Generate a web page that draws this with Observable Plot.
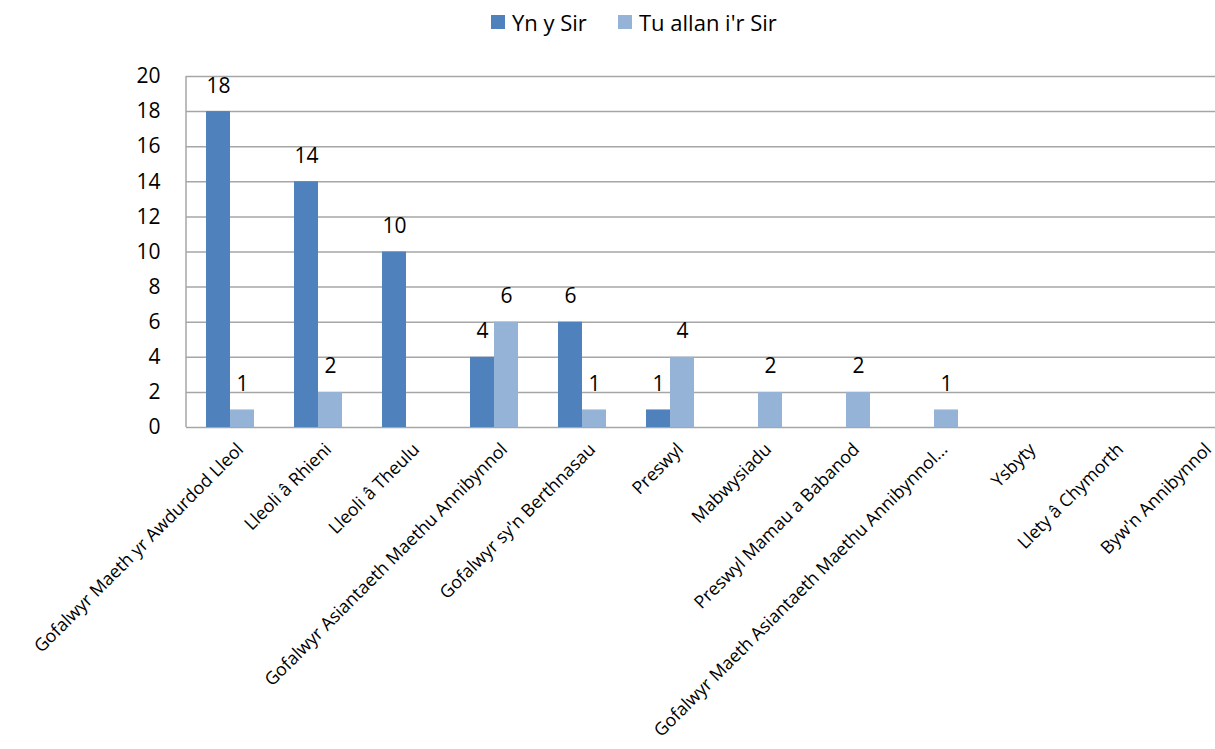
<!DOCTYPE html>
<html>
<head>
<meta charset="utf-8">
<script src="https://cdn.jsdelivr.net/npm/d3@7"></script>
<script src="https://cdn.jsdelivr.net/npm/@observablehq/plot@0.6"></script>
<style>
  html, body { margin: 0; padding: 0; background: #fff; overflow: hidden; }
  body { width: 1215px; height: 749px; font-family: "Open Sans", sans-serif; }
  #legend { position: relative; height: 44px; }
  .item { position: absolute; top: 0; height: 44px; display: flex; align-items: center; font-size: 22px; color: #000; white-space: nowrap; }
  .sw { width: 14px; height: 14px; margin-right: 7px; }
  #chart svg { display: block; overflow: visible; }
</style>
</head>
<body>
<div id="legend"></div>
<div id="chart"></div>
<script>
const categories = [
  "Gofalwyr Maeth yr Awdurdod Lleol",
  "Lleoli â Rhieni",
  "Lleoli â Theulu",
  "Gofalwyr Asiantaeth Maethu Annibynnol",
  "Gofalwyr sy'n Berthnasau",
  "Preswyl",
  "Mabwysiadu",
  "Preswyl Mamau a Babanod",
  "Gofalwyr Maeth Asiantaeth Maethu Annibynnol...",
  "Ysbyty",
  "Llety â Chymorth",
  "Byw'n Annibynnol"
];
const series = ["Yn y Sir", "Tu allan i'r Sir"];
const ynYSir = [18, 14, 10, 4, 6, 1, 0, 0, 0, 0, 0, 0];
const tuAllanIrSir = [1, 2, 0, 6, 1, 4, 2, 2, 1, 0, 0, 0];
const colors = ["#4f81bd", "#95b3d7"];
const yTicks = [0, 2, 4, 6, 8, 10, 12, 14, 16, 18, 20];

const rows = [];
categories.forEach((c, i) => {
  rows.push({category: c, series: series[0], value: ynYSir[i]});
  rows.push({category: c, series: series[1], value: tuAllanIrSir[i]});
});

// legend
const legend = document.getElementById("legend");
const legendLeft = [491, 618];
series.forEach((s, i) => {
  const it = document.createElement("div");
  it.className = "item";
  it.style.left = legendLeft[i] + "px";
  const sw = document.createElement("span");
  sw.className = "sw";
  sw.style.background = colors[i];
  it.appendChild(sw);
  it.appendChild(document.createTextNode(s));
  legend.appendChild(it);
});

const chart = Plot.plot({
  width: 1215,
  height: 705,
  marginTop: 32,
  marginBottom: 322,
  marginLeft: 184,
  marginRight: -29,
  style: {fontFamily: "Open Sans, sans-serif", fontSize: "21px", background: "#fff", color: "#000"},
  fx: {domain: categories, padding: 0},
  x: {domain: series, paddingInner: 0, paddingOuter: 0.767, axis: null},
  y: {domain: [0, 20], axis: null},
  color: {domain: series, range: colors},
  marks: [
    Plot.ruleY(yTicks, {stroke: "#a6a6a6", strokeWidth: 1.5}),
    Plot.barY(rows, {fx: "category", x: "series", y: "value", fill: "series", inset: 0}),
    Plot.text(rows.filter(d => d.value > 0), {
      fx: "category", x: "series", y: "value", text: d => String(d.value),
      lineAnchor: "bottom", dy: -19, fontSize: 21, fill: "#000"
    }),
    Plot.axisY({ticks: yTicks, tickSize: 0, tickPadding: 26, fontSize: 21, label: null, tickFormat: d => String(d)}),
    Plot.axisFx({anchor: "bottom", tickSize: 0, tickPadding: 19, dx: 10, tickRotate: -45, fontSize: 17.8, label: null})
  ]
});

// left axis line derived from the scales
const fxS = chart.scale("fx");
const yS = chart.scale("y");
d3.select(chart).append("line")
  .attr("x1", fxS.apply(categories[0])).attr("x2", fxS.apply(categories[0]))
  .attr("y1", yS.apply(20)).attr("y2", yS.apply(0))
  .attr("stroke", "#a6a6a6").attr("stroke-width", 1.5);

document.getElementById("chart").appendChild(chart);
</script>
</body>
</html>
